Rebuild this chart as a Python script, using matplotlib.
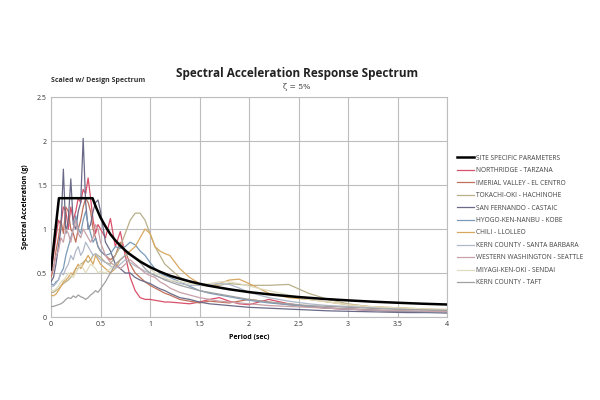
import matplotlib
matplotlib.use("Agg")
import matplotlib.pyplot as plt

# ---------------- data ----------------
periods = [0, 0.025, 0.05, 0.075, 0.1, 0.125, 0.15, 0.175, 0.2, 0.225, 0.25, 0.275, 0.3,
           0.325, 0.35, 0.375, 0.4, 0.425, 0.45, 0.475, 0.5, 0.55, 0.6, 0.65, 0.7, 0.75,
           0.8, 0.85, 0.9, 0.95, 1.0, 1.05, 1.1, 1.15, 1.2, 1.3, 1.4, 1.5, 1.6, 1.7, 1.8,
           1.9, 2.0, 2.2, 2.4, 2.6, 2.8, 3.0, 3.2, 3.4, 3.6, 3.8, 4.0]

design_T = [0, 0.08, 0.42, 0.45, 0.5, 0.55, 0.6, 0.65, 0.7, 0.75, 0.8, 0.9, 1.0, 1.1, 1.2,
            1.3, 1.4, 1.5, 1.6, 1.8, 2.0, 2.25, 2.5, 2.75, 3.0, 3.25, 3.5, 3.75, 4.0]
design_Sa = [0.54, 1.35, 1.35, 1.26, 1.13, 1.03, 0.94, 0.87, 0.81, 0.756, 0.71, 0.63, 0.567,
             0.515, 0.47, 0.436, 0.405, 0.378, 0.354, 0.315, 0.283, 0.252, 0.227, 0.206,
             0.189, 0.174, 0.162, 0.151, 0.142]

northridge = [0.5, 0.7, 0.9, 1.1, 1.05, 1.25, 1.2, 1.0, 1.25, 1.1, 1.2, 1.35, 1.3, 1.45, 1.4,
              1.58, 1.35, 1.1, 0.95, 1.05, 1.0, 0.9, 1.12, 0.8, 0.97, 0.7, 0.45, 0.3, 0.22,
              0.2, 0.2, 0.19, 0.18, 0.17, 0.17, 0.16, 0.15, 0.17, 0.2, 0.22, 0.18, 0.15, 0.14,
              0.2, 0.15, 0.12, 0.1, 0.09, 0.08, 0.07, 0.06, 0.06, 0.05]
imperial = [0.45, 0.55, 0.75, 0.9, 1.1, 0.95, 1.25, 1.2, 1.0, 0.95, 0.85, 1.0, 1.1, 1.25, 1.35,
            1.3, 1.2, 1.0, 0.9, 0.8, 0.75, 0.7, 0.65, 0.7, 0.85, 0.75, 0.6, 0.5, 0.45, 0.4,
            0.36, 0.33, 0.3, 0.27, 0.25, 0.2, 0.18, 0.16, 0.18, 0.17, 0.16, 0.18, 0.2, 0.17,
            0.14, 0.12, 0.1, 0.09, 0.08, 0.07, 0.065, 0.06, 0.055]
tokachi = [0.28, 0.28, 0.3, 0.32, 0.35, 0.38, 0.4, 0.42, 0.45, 0.5, 0.55, 0.55, 0.6, 0.62,
           0.65, 0.62, 0.65, 0.7, 0.72, 0.7, 0.68, 0.62, 0.6, 0.7, 0.8, 0.95, 1.1, 1.18, 1.18,
           1.1, 0.95, 0.8, 0.7, 0.6, 0.55, 0.45, 0.4, 0.36, 0.35, 0.36, 0.38, 0.37, 0.36,
           0.36, 0.37, 0.27, 0.2, 0.15, 0.12, 0.1, 0.09, 0.08, 0.07]
san_fernando = [0.4, 0.45, 0.6, 0.8, 1.0, 1.68, 0.95, 1.1, 1.57, 1.05, 1.0, 1.2, 1.3, 2.03,
                1.3, 1.0, 1.05, 1.2, 1.3, 1.33, 1.2, 0.85, 0.75, 0.6, 0.55, 0.5, 0.5, 0.45,
                0.42, 0.4, 0.38, 0.35, 0.32, 0.3, 0.27, 0.22, 0.2, 0.17, 0.15, 0.14, 0.13,
                0.12, 0.11, 0.1, 0.09, 0.08, 0.07, 0.065, 0.06, 0.055, 0.05, 0.05, 0.045]
hyogo = [0.38, 0.36, 0.4, 0.42, 0.5, 0.55, 0.7, 0.8, 0.9, 1.0, 1.15, 1.0, 0.95, 1.1, 1.2,
         1.05, 0.95, 0.85, 0.9, 0.8, 0.75, 0.7, 0.72, 0.8, 0.78, 0.8, 0.85, 0.82, 0.75, 0.7,
         0.62, 0.55, 0.5, 0.47, 0.45, 0.4, 0.35, 0.3, 0.27, 0.25, 0.23, 0.21, 0.19, 0.16,
         0.14, 0.12, 0.1, 0.09, 0.08, 0.07, 0.065, 0.06, 0.055]
chili = [0.25, 0.24, 0.26, 0.3, 0.35, 0.4, 0.42, 0.45, 0.5, 0.48, 0.55, 0.6, 0.55, 0.6, 0.65,
         0.7, 0.65, 0.6, 0.7, 0.65, 0.6, 0.55, 0.5, 0.55, 0.65, 0.7, 0.75, 0.8, 0.9, 1.0,
         0.95, 0.8, 0.75, 0.72, 0.7, 0.55, 0.45, 0.38, 0.35, 0.38, 0.42, 0.43, 0.38, 0.27,
         0.22, 0.2, 0.17, 0.14, 0.12, 0.11, 0.1, 0.09, 0.08]
kern_sb = [0.35, 0.35, 0.38, 0.42, 0.5, 0.48, 0.55, 0.6, 0.7, 0.65, 0.75, 0.8, 0.7, 0.75,
           0.85, 0.8, 0.75, 0.7, 0.72, 0.68, 0.65, 0.62, 0.58, 0.55, 0.6, 0.65, 0.62, 0.58,
           0.55, 0.52, 0.5, 0.48, 0.45, 0.43, 0.42, 0.38, 0.36, 0.36, 0.37, 0.38, 0.37, 0.33,
           0.28, 0.22, 0.18, 0.15, 0.13, 0.12, 0.11, 0.1, 0.09, 0.08, 0.08]
w_washington = [0.5, 0.55, 0.7, 0.75, 0.9, 0.85, 1.0, 0.95, 0.85, 1.0, 1.1, 0.95, 0.9, 1.0,
                0.95, 0.9, 0.85, 0.9, 1.05, 1.0, 0.85, 0.7, 0.62, 0.58, 0.55, 0.6, 0.65, 0.6,
                0.55, 0.5, 0.47, 0.45, 0.4, 0.37, 0.33, 0.28, 0.25, 0.22, 0.2, 0.18, 0.17,
                0.16, 0.15, 0.13, 0.12, 0.11, 0.1, 0.09, 0.08, 0.075, 0.07, 0.065, 0.06]
miyagi = [0.3, 0.3, 0.32, 0.35, 0.4, 0.42, 0.45, 0.5, 0.48, 0.45, 0.5, 0.55, 0.6, 0.55, 0.5,
          0.55, 0.6, 0.58, 0.55, 0.5, 0.52, 0.5, 0.55, 0.6, 0.65, 0.7, 0.72, 0.68, 0.65, 0.6,
          0.55, 0.5, 0.48, 0.45, 0.42, 0.4, 0.38, 0.37, 0.38, 0.4, 0.4, 0.38, 0.35, 0.3,
          0.25, 0.2, 0.17, 0.14, 0.12, 0.11, 0.1, 0.09, 0.09]
kern_taft = [0.12, 0.12, 0.13, 0.14, 0.15, 0.17, 0.2, 0.22, 0.21, 0.24, 0.22, 0.25, 0.23,
             0.22, 0.2, 0.22, 0.25, 0.27, 0.3, 0.28, 0.32, 0.4, 0.5, 0.6, 0.65, 0.7, 0.72,
             0.68, 0.62, 0.55, 0.5, 0.47, 0.45, 0.42, 0.4, 0.36, 0.33, 0.3, 0.28, 0.26, 0.24,
             0.22, 0.2, 0.17, 0.15, 0.13, 0.12, 0.11, 0.1, 0.09, 0.085, 0.08, 0.075]

series_labels = ["NORTHRIDGE - TARZANA", "IMERIAL VALLEY - EL CENTRO", "TOKACHI-OKI - HACHINOHE",
                 "SAN FERNANDO - CASTAIC", "HYOGO-KEN-NANBU - KOBE", "CHILI - LLOLLEO",
                 "KERN COUNTY - SANTA BARBARA", "WESTERN WASHINGTON - SEATTLE",
                 "MIYAGI-KEN-OKI - SENDAI", "KERN COUNTY - TAFT"]
series_values = [northridge, imperial, tokachi, san_fernando, hyogo, chili, kern_sb,
                 w_washington, miyagi, kern_taft]
series_colors = ["#d9506a", "#c0705a", "#b8b08a", "#6a6a88", "#7a9ab8", "#d8a860",
                 "#b0b8c8", "#c8a0a8", "#e0dcc0", "#a0a0a0"]

x_ticks = [0, 0.5, 1, 1.5, 2, 2.5, 3, 3.5, 4]
x_tick_labels = ["0", "0.5", "1", "1.5", "2", "2.5", "3", "3.5", "4"]
y_ticks = [0, 0.5, 1, 1.5, 2, 2.5]
y_tick_labels = ["0", "0.5", "1", "1.5", "2", "2.5"]

# ---------------- plot ----------------
plt.rcParams['font.family'] = ['Open Sans', 'DejaVu Sans']
fig = plt.figure(figsize=(6, 4), dpi=100)
ax = fig.add_axes([0.085, 0.2075, 0.66, 0.55])

handles = []
design_line, = ax.plot(design_T, design_Sa, color="black", lw=1.8, zorder=5,
                       label="SITE SPECIFIC PARAMETERS")
handles.append(design_line)
for lab, vals, col in zip(series_labels, series_values, series_colors):
    h, = ax.plot(periods, vals, color=col, lw=0.9, label=lab, zorder=3)
    handles.append(h)

ax.set_xlim(0, 4)
ax.set_ylim(0, 2.5)
ax.set_xticks(x_ticks)
ax.set_xticklabels(x_tick_labels)
ax.set_yticks(y_ticks)
ax.set_yticklabels(y_tick_labels)
ax.grid(True, color="#bdbdbd", lw=0.8)
ax.set_axisbelow(True)
ax.tick_params(labelsize=5, length=0, pad=3, colors="#333333")
for s in ax.spines.values():
    s.set_color("#bdbdbd")
    s.set_linewidth(0.8)

ax.set_xlabel("Period (sec)", fontsize=5, fontweight="bold", labelpad=4)
ax.set_ylabel("Spectral Acceleration (g)", fontsize=5, fontweight="bold", labelpad=6)

fig.text(0.495, 0.8175, "Spectral Acceleration Response Spectrum", ha="center", va="center",
         fontsize=8.5, fontweight="bold", color="#222222")
fig.text(0.495, 0.783, "ζ = 5%", ha="center", va="center", fontsize=5.5,
         family=["DejaVu Serif"], color="#333333")
fig.text(0.085, 0.80, "Scaled w/ Design Spectrum", ha="left", va="center", fontsize=5,
         fontweight="bold", color="#333333")

leg = fig.legend(handles=handles, loc="upper left", bbox_to_anchor=(0.757, 0.62),
                 fontsize=4.8, frameon=False, handlelength=2.6, handletextpad=0.3,
                 labelspacing=0.82, borderaxespad=0)
for t in leg.get_texts():
    t.set_color("#444444")

fig.savefig("out.png", dpi=100)
